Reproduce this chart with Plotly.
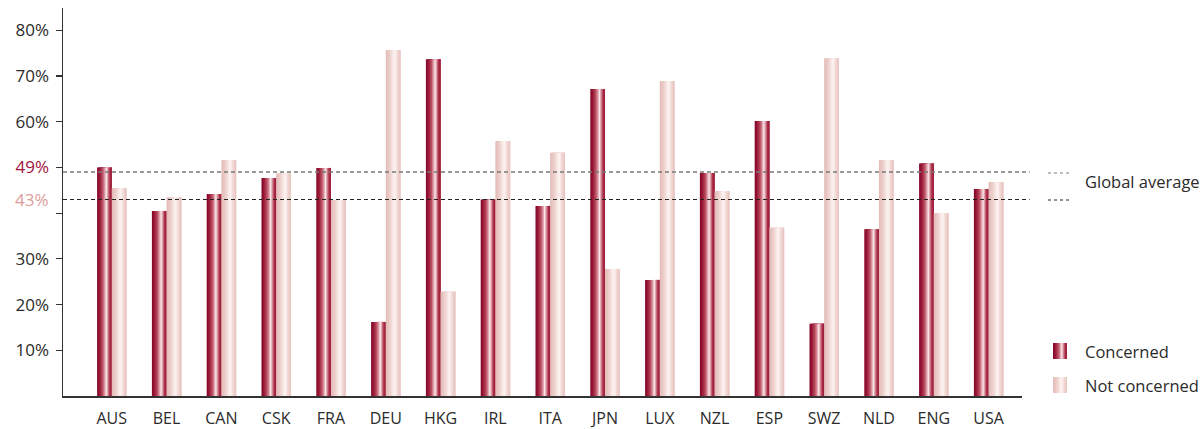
import plotly.graph_objects as go

categories = ["AUS", "BEL", "CAN", "CSK", "FRA", "DEU", "HKG", "IRL", "ITA",
              "JPN", "LUX", "NZL", "ESP", "SWZ", "NLD", "ENG", "USA"]
concerned = [50.0, 40.5, 44.2, 47.7, 49.9, 16.2, 73.7, 43.0, 41.6,
             67.2, 25.4, 48.8, 60.2, 15.8, 36.5, 50.9, 45.3]
not_concerned = [45.5, 43.5, 51.6, 48.7, 42.9, 75.7, 22.8, 55.8, 53.2,
                 27.8, 68.9, 44.8, 36.8, 73.9, 51.6, 40.0, 46.8]
avg_concerned = 49
avg_not_concerned = 43
y_ticks = [10, 20, 30, 40, 50, 60, 70, 80]

FONT = "Open Sans"
TXT = "#2b2b2b"
CRIMSON = "#a3123e"
PINK = "#dc9c9c"

# gradient stops (fraction across bar width, rgb)
grad_c = [(0.0, (130, 4, 40)), (0.18, (155, 25, 56)), (0.38, (188, 80, 100)),
          (0.52, (222, 155, 166)), (0.63, (250, 236, 238)), (0.74, (215, 140, 153)),
          (0.87, (170, 45, 72)), (1.0, (155, 25, 56))]
grad_n = [(0.0, (226, 186, 182)), (0.3, (238, 209, 205)), (0.6, (253, 246, 244)),
          (0.82, (240, 213, 210)), (1.0, (229, 193, 189))]


def interp(stops, t):
    for (t0, c0), (t1, c1) in zip(stops[:-1], stops[1:]):
        if t0 <= t <= t1:
            f = (t - t0) / (t1 - t0) if t1 > t0 else 0
            c = [round(a + (b - a) * f) for a, b in zip(c0, c1)]
            return "rgb(%d,%d,%d)" % tuple(c)
    return "rgb(%d,%d,%d)" % stops[-1][1]


NS = 12
BW = 0.268
xs = list(range(len(categories)))

fig = go.Figure()
for vals, stops, off0 in [(concerned, grad_c, -BW), (not_concerned, grad_n, 0.0)]:
    sw = BW / NS
    for k in range(NS):
        # each strip runs to the bar's right edge; later strips cover earlier ones
        fig.add_trace(go.Bar(
            x=xs, y=vals, offset=off0 + k * sw, width=BW - k * sw,
            marker=dict(color=interp(stops, (k + 0.5) / NS), line=dict(width=0)),
            showlegend=False, hoverinfo="skip"))

# global average lines
fig.add_shape(type="line", xref="paper", yref="y", x0=0, x1=1.008,
              y0=avg_concerned, y1=avg_concerned,
              line=dict(color="#7a7a7a", width=1.6, dash="4px,3px"))
fig.add_shape(type="line", xref="paper", yref="y", x0=0, x1=1.008,
              y0=avg_not_concerned, y1=avg_not_concerned,
              line=dict(color="#222222", width=1.2, dash="4px,3px"))

# plot area in pixels
L, R, T, B = 63, 1022, 8, 396
W, H = R - L, B - T


def px(x):
    return (x - L) / W


def py(y):
    return (B - y) / H


# legend: global average
fig.add_shape(type="line", xref="paper", yref="paper", x0=px(1048), x1=px(1072),
              y0=py(173), y1=py(173), line=dict(color="#7a7a7a", width=1.2, dash="3px,3px"))
fig.add_shape(type="line", xref="paper", yref="paper", x0=px(1048), x1=px(1072),
              y0=py(200), y1=py(200), line=dict(color="#222222", width=1.2, dash="3px,3px"))
fig.add_annotation(xref="paper", yref="paper", x=px(1083), y=py(182), text="Global average",
                   showarrow=False, xanchor="left", yanchor="middle",
                   font=dict(family=FONT, size=16.5, color=TXT))

# legend: series icons
for stops, ytop, label in [(grad_c, 343, "Concerned"), (grad_n, 377, "Not concerned")]:
    n = 12
    x0, x1 = 1053, 1067
    for k in range(n):
        fig.add_shape(type="rect", xref="paper", yref="paper",
                      x0=px(x0 + (x1 - x0) * k / n), x1=px(x1),
                      y0=py(ytop + 16), y1=py(ytop),
                      fillcolor=interp(stops, (k + 0.5) / n), line=dict(width=0))
    fig.add_annotation(xref="paper", yref="paper", x=px(1083), y=py(ytop + 8), text=label,
                       showarrow=False, xanchor="left", yanchor="middle",
                       font=dict(family=FONT, size=16.5, color=TXT))

# 43% label
fig.add_annotation(xref="paper", yref="y", x=0, y=avg_not_concerned, xshift=-12,
                   text="%d%%" % avg_not_concerned, showarrow=False, xanchor="right",
                   yanchor="middle", font=dict(family=FONT, size=17, color=PINK))

tick_text = []
for v in y_ticks:
    if v == 40:
        tick_text.append("")
    elif v == 50:
        tick_text.append("<span style='color:%s'>%d%%</span>" % (CRIMSON, avg_concerned))
    else:
        tick_text.append("%d%%" % v)

fig.update_layout(
    width=1203, height=429,
    margin=dict(l=L, r=1203 - R, t=T, b=429 - B, autoexpand=False),
    paper_bgcolor="white", plot_bgcolor="white",
    barmode="overlay",
    font=dict(family=FONT, size=16, color=TXT),
    xaxis=dict(range=[-0.89, 16.61], tickvals=xs, ticktext=categories,
               showgrid=False, zeroline=False, showline=True, linecolor="#333333",
               linewidth=1.5, ticks="", ticklabelstandoff=7, automargin=False,
               tickfont=dict(family=FONT, size=16, color=TXT)),
    yaxis=dict(range=[0, 84.9], tickvals=y_ticks, ticktext=tick_text,
               showgrid=False, zeroline=False, showline=True, linecolor="#333333",
               linewidth=1.5, ticks="outside", ticklen=6, tickcolor="#333333",
               tickwidth=1.2, ticklabelstandoff=3, automargin=False,
               tickfont=dict(family=FONT, size=17, color=TXT)),
)

fig.write_html("out.html", config={"staticPlot": True, "displayModeBar": False},
               post_script="document.body.style.margin='0';document.body.style.padding='0';")
